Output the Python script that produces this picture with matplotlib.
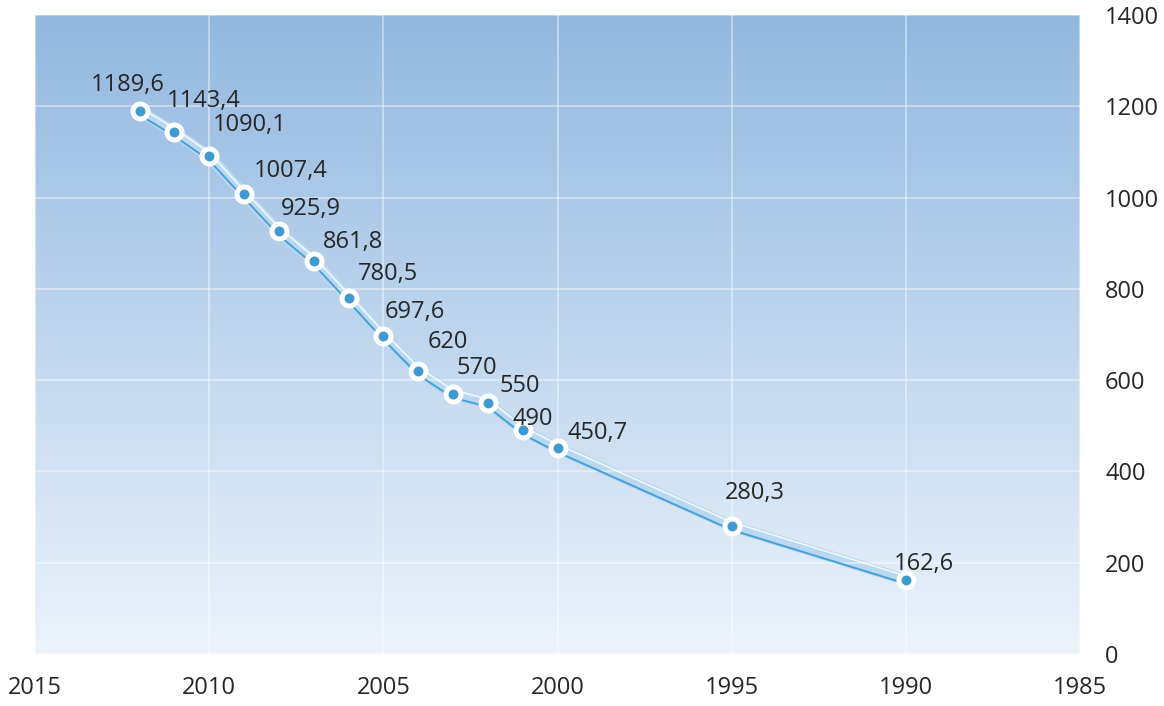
import numpy as np
import matplotlib
matplotlib.use('Agg')
import matplotlib.pyplot as plt
import matplotlib.transforms as mtransforms

plt.rcParams['font.family'] = ['Open Sans', 'DejaVu Sans']

# данные
years = [2012, 2011, 2010, 2009, 2008, 2007, 2006, 2005, 2004, 2003, 2002, 2001, 2000, 1995, 1990]
values = [1189.6, 1143.4, 1090.1, 1007.4, 925.9, 861.8, 780.5, 697.6, 620, 570, 550, 490, 450.7, 280.3, 162.6]
labels = ['1189,6', '1143,4', '1090,1', '1007,4', '925,9', '861,8', '780,5', '697,6',
          '620', '570', '550', '490', '450,7', '280,3', '162,6']
x_ticks = [2015, 2010, 2005, 2000, 1995, 1990, 1985]
y_ticks = [0, 200, 400, 600, 800, 1000, 1200, 1400]

# смещения подписей (пиксели: левый край текста, центр по вертикали)
offsets = [(-49, 26), (-8, 31), (4, 31), (10, 23), (2, 22), (9, 19), (9, 24), (1, 24),
           (9, 29), (4, 26), (12, 17), (-10, 11), (10, 15), (-7, 33), (-12, 16)]

fig = plt.figure(figsize=(11.64, 7.06), dpi=100)
ax = fig.add_axes([35 / 1164, 1 - 654 / 706, 1045 / 1164, 639 / 706])

# градиентный фон
top = np.array([146, 184, 224]) / 255
bottom = np.array([236, 243, 251]) / 255
t = np.linspace(0, 1, 256)[:, None]
grad = top * (1 - t) + bottom * t
ax.imshow(grad[:, None, :], extent=[0, 1, 0, 1], transform=ax.transAxes,
          aspect='auto', zorder=0)

ax.set_xlim(2015, 1985)
ax.set_ylim(0, 1400)
ax.set_xticks(x_ticks)
ax.set_yticks(y_ticks)
for s in ax.spines.values():
    s.set_visible(False)

ax.grid(True, color='white', alpha=0.45, lw=1.3, zorder=1)
ax.set_axisbelow(False)

ax.yaxis.tick_right()
ax.tick_params(axis='both', length=0, labelsize=17, colors='#262626')
ax.tick_params(axis='y', pad=18)
ax.tick_params(axis='x', pad=16)

# линия
ax.plot(years, values, color='#b8d9f1', lw=8, zorder=2, solid_capstyle='round')
down = ax.transData + mtransforms.ScaledTranslation(0, -2.8 / 72, fig.dpi_scale_trans)
up = ax.transData + mtransforms.ScaledTranslation(0, 2.8 / 72, fig.dpi_scale_trans)
ax.plot(years, values, color='white', lw=1.2, alpha=0.8, zorder=3, transform=up)
ax.plot(years, values, color='#4a9fd8', lw=1.4, zorder=3, transform=down)
ax.plot(years, values, ls='none', marker='o', ms=10.8, mfc='#3f9ad2', mec='white',
        mew=3.6, zorder=4)

for x, y, lab, (dx, dy) in zip(years, values, labels, offsets):
    ax.annotate(lab, (x, y), xytext=(dx * 0.72, dy * 0.72), textcoords='offset points',
                ha='left', va='center', fontsize=17, color='#262626', zorder=5)

fig.savefig('out.png', dpi=100)
